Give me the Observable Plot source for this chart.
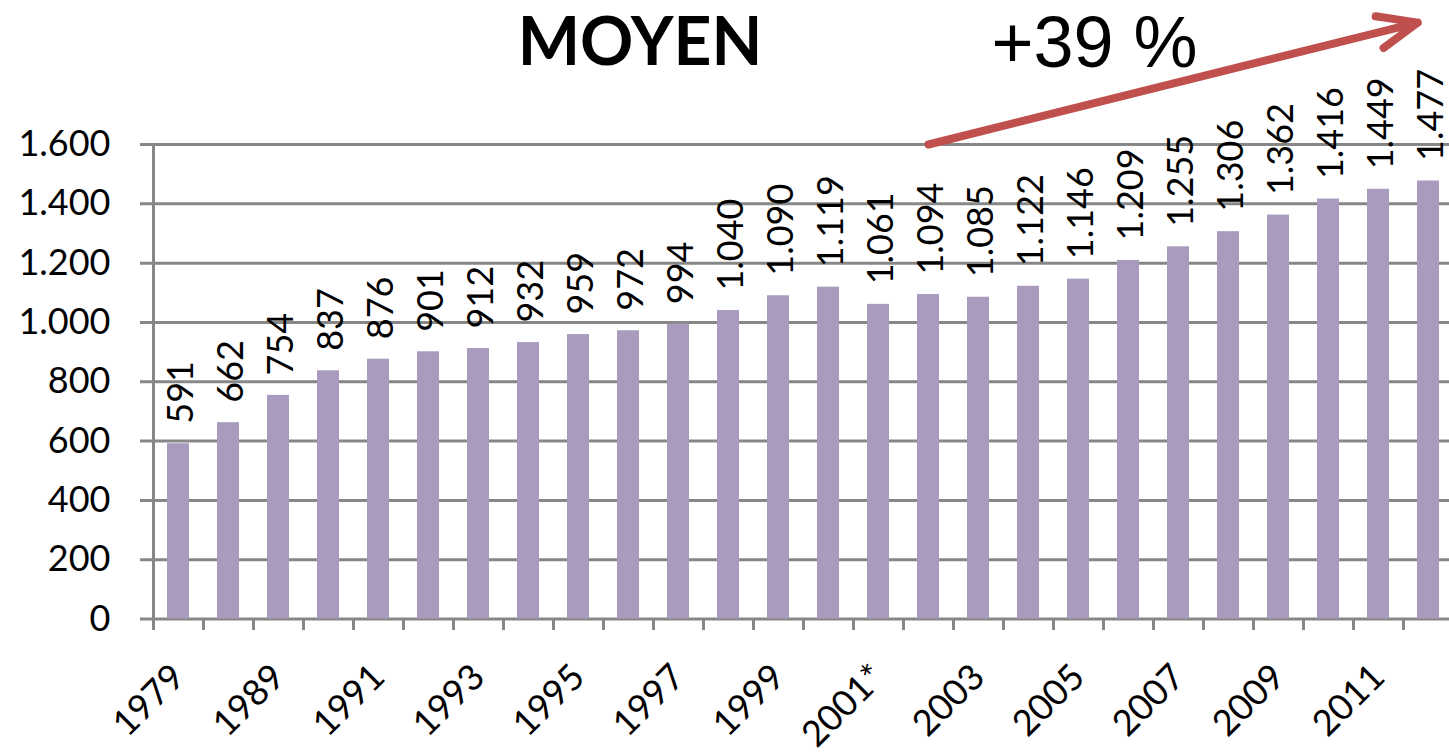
<!DOCTYPE html>
<html>
<head>
<meta charset="utf-8">
<script src="https://cdn.jsdelivr.net/npm/d3@7"></script>
<script src="https://cdn.jsdelivr.net/npm/@observablehq/plot@0.6"></script>
<style>
  body { margin: 0; background: #fff; font-family: Lato, "Open Sans", sans-serif; }
  #wrap { position: relative; width: 1449px; height: 755px; overflow: hidden; }
  #title { position: absolute; left: 0; top: 7px; width: 1280px; text-align: center;
           font-family: Lato, sans-serif; font-weight: bold; font-size: 66px; line-height: 66px; color: #000; }
  #chart svg { display: block; }
</style>
</head>
<body>
<div id="wrap">
  <div id="chart"></div>
  <div id="title">MOYEN</div>
</div>
<script>
// ---- data ----
const years = ["1979", "1988", "1989", "1990", "1991", "1992", "1993", "1994", "1995", "1996",
  "1997", "1998", "1999", "2000", "2001*", "2002", "2003", "2004", "2005", "2006",
  "2007", "2008", "2009", "2010", "2011", "2012"];
const values = [591, 662, 754, 837, 876, 901, 912, 932, 959, 972,
  994, 1040, 1090, 1119, 1061, 1094, 1085, 1122, 1146, 1209,
  1255, 1306, 1362, 1416, 1449, 1477];
const labeledYears = years.filter((d, i) => i % 2 === 0);
const yTicks = [0, 200, 400, 600, 800, 1000, 1200, 1400, 1600];
const arrowStart = [{year: "2002", value: 1600}];
const arrowEnd = [{year: "2012", value: 2020}];
const growthLabel = [{year: "2005", value: 1862, text: "+39 %"}];

// ---- build ----
const data = years.map((year, i) => ({year, value: values[i]}));
const arrow = [{x1: arrowStart[0].year, y1: arrowStart[0].value, x2: arrowEnd[0].year, y2: arrowEnd[0].value}];
const fmt = d3.formatLocale({decimal: ",", thousands: ".", grouping: [3], currency: ["", ""]}).format(",d");

const gray = "#878787";
const chart = Plot.plot({
  width: 1449,
  height: 755,
  marginLeft: 152,
  marginRight: 0,
  marginTop: 144,
  marginBottom: 137,
  style: {fontFamily: "Lato, 'Open Sans', sans-serif", fontSize: "35px", background: "#fff", overflow: "visible"},
  x: {domain: years, range: [152, 1454], paddingInner: 0.56, paddingOuter: 0.28, axis: null},
  y: {domain: [0, 1600], range: [618.5, 144], axis: null},
  marks: [
    Plot.ruleY(yTicks, {y: d => d, stroke: gray, strokeWidth: 3, insetLeft: -12}),
    Plot.ruleX([years[0]], {x: d => d, y1: 0, y2: 1600, dx: -25, stroke: gray, strokeWidth: 3}),
    Plot.axisX({ticks: years, tickSize: 12, tickFormat: () => "", dx: -25, stroke: gray, strokeWidth: 3, label: null}),
    Plot.axisY({ticks: yTicks, tickSize: 0, tickPadding: 42, tickFormat: fmt, fontSize: 36, label: null}),
    Plot.barY(data, {x: "year", y: "value", fill: "#A89BBE"}),
    Plot.text(data, {x: "year", y: "value", text: d => fmt(d.value), rotate: -90, textAnchor: "start",
      lineAnchor: "middle", dy: -20, dx: 3, fontSize: 36, fill: "#000"}),
    Plot.text(labeledYears, {x: d => d, y: 0, text: d => d, rotate: -45, textAnchor: "end",
      lineAnchor: "middle", dy: 52, fontSize: 36, fill: "#000"}),
    Plot.arrow(arrow, {x1: "x1", y1: "y1", x2: "x2", y2: "y2", stroke: "#C0504D", strokeWidth: 8,
      headAngle: 45, headLength: 8, insetEnd: 11}),
    Plot.text(growthLabel, {x: "year", y: "value", text: "text", dx: 16, lineAnchor: "bottom",
      fontSize: 72, fontFamily: "'Liberation Sans', Arial, sans-serif", fill: "#000"})
  ]
});
document.getElementById("chart").appendChild(chart);
</script>
</body>
</html>
